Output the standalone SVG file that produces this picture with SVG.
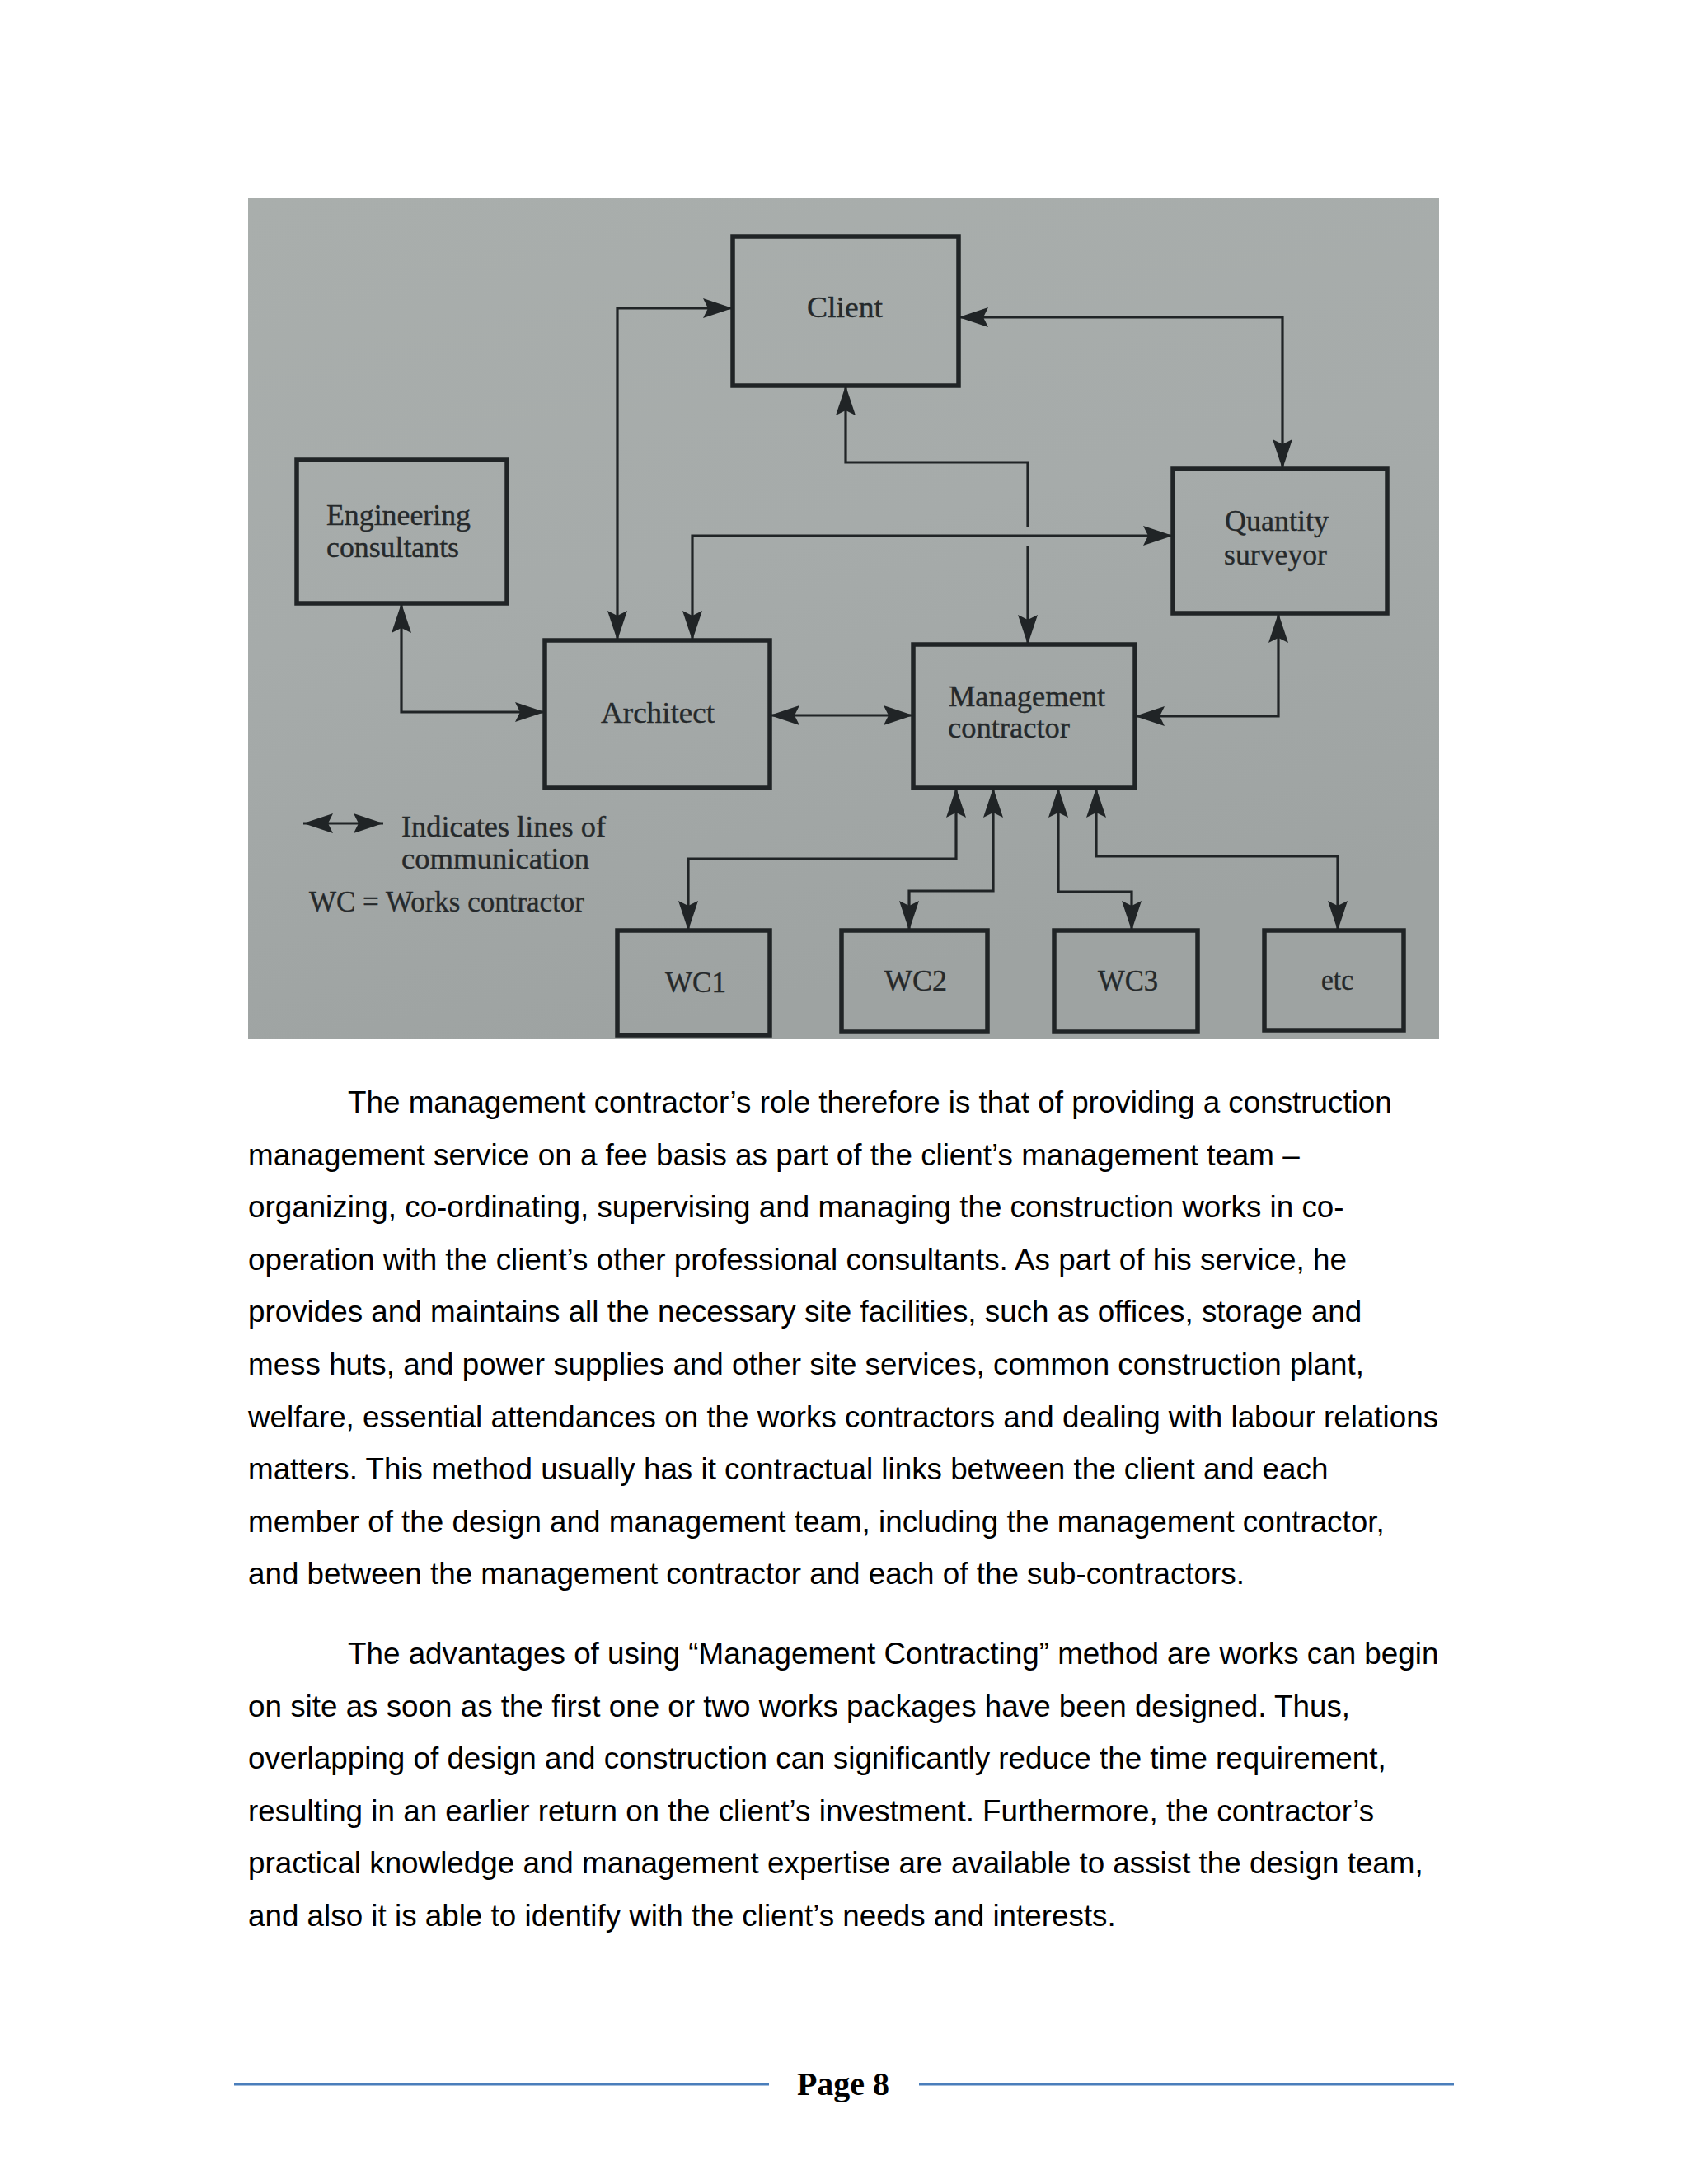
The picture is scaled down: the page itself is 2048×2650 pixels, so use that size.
<svg xmlns="http://www.w3.org/2000/svg" width="2048" height="2650" viewBox="0 0 2048 2650">
<defs>
<linearGradient id="photo" x1="0" y1="0" x2="0.3" y2="1">
<stop offset="0" stop-color="#a9aeac"/>
<stop offset="0.5" stop-color="#a6abaa"/>
<stop offset="1" stop-color="#9ea3a2"/>
</linearGradient>
<marker id="ah" markerUnits="userSpaceOnUse" markerWidth="38" markerHeight="24" refX="36" refY="12" orient="auto-start-reverse" viewBox="0 0 38 24">
<path d="M0,0 L36,12 L0,24 L6,12 z" fill="#202426"/>
</marker>
<style>
.box{fill:none;stroke:#202426;stroke-width:5.5}
.con{fill:none;stroke:#202426;stroke-width:3.2;marker-start:url(#ah);marker-end:url(#ah)}
.lbl{font-family:"Liberation Serif","DejaVu Serif",serif;font-size:36px;fill:#25292b;stroke:#25292b;stroke-width:0.4}
.body{font-family:"Liberation Sans",Arial,sans-serif;font-size:36.8px;fill:#000}
.foot{font-family:"Liberation Serif","DejaVu Serif",serif;font-size:40px;font-weight:bold;fill:#000}
</style>
</defs>
<rect width="2048" height="2650" fill="#fff"/>
<rect x="301" y="240" width="1445" height="1021" fill="url(#photo)"/>

<g id="connectors">
<path class="con" d="M889,374 H749 V777"/>
<path class="con" d="M1163,385 H1556 V569"/>
<path class="con" d="M840,777 V650 H1423"/>
<path class="con" style="marker-end:none" d="M1026,468 V561 H1247 V640"/>
<path class="con" style="marker-start:none" d="M1247,663 V782"/>
<path class="con" d="M487,732 V864 H661"/>
<path class="con" d="M934,868 H1108"/>
<path class="con" d="M1551,744 V869 H1377"/>
<path class="con" d="M1160,956 V1042 H835 V1129"/>
<path class="con" d="M1205,956 V1081 H1103 V1129"/>
<path class="con" d="M1284,956 V1082 H1373 V1129"/>
<path class="con" d="M1330,956 V1039 H1623 V1129"/>
</g>

<g id="client"><rect class="box" x="889" y="287" width="274" height="181"/><text class="lbl" x="979" y="385" font-size="37" textLength="92" lengthAdjust="spacingAndGlyphs">Client</text></g>
<g id="engineering-consultants"><rect class="box" x="360" y="558" width="255" height="174"/><text class="lbl" x="396" y="637" textLength="175" lengthAdjust="spacingAndGlyphs">Engineering</text><text class="lbl" x="396" y="676" textLength="161" lengthAdjust="spacingAndGlyphs">consultants</text></g>
<g id="quantity-surveyor"><rect class="box" x="1423" y="569" width="260" height="175"/><text class="lbl" x="1486" y="644" textLength="126" lengthAdjust="spacingAndGlyphs">Quantity</text><text class="lbl" x="1485" y="685" textLength="125" lengthAdjust="spacingAndGlyphs">surveyor</text></g>
<g id="architect"><rect class="box" x="661" y="777" width="273" height="179"/><text class="lbl" x="729" y="877" textLength="138" lengthAdjust="spacingAndGlyphs">Architect</text></g>
<g id="management-contractor"><rect class="box" x="1108" y="782" width="269" height="174"/><text class="lbl" x="1151" y="857" textLength="190" lengthAdjust="spacingAndGlyphs">Management</text><text class="lbl" x="1150" y="895" textLength="148" lengthAdjust="spacingAndGlyphs">contractor</text></g>
<g id="wc1"><rect class="box" x="749" y="1129" width="185" height="127"/><text class="lbl" x="807" y="1204" textLength="74" lengthAdjust="spacingAndGlyphs">WC1</text></g>
<g id="wc2"><rect class="box" x="1021" y="1129" width="177" height="123"/><text class="lbl" x="1073" y="1202" textLength="76" lengthAdjust="spacingAndGlyphs">WC2</text></g>
<g id="wc3"><rect class="box" x="1279" y="1129" width="174" height="123"/><text class="lbl" x="1332" y="1202" textLength="73" lengthAdjust="spacingAndGlyphs">WC3</text></g>
<g id="etc"><rect class="box" x="1534" y="1129" width="169" height="121"/><text class="lbl" x="1603" y="1201" font-size="30" textLength="39" lengthAdjust="spacingAndGlyphs">etc</text></g>

<g id="legend">
<path class="con" d="M368,999 H465"/>
<text class="lbl" x="487" y="1015" textLength="248" lengthAdjust="spacingAndGlyphs">Indicates lines of</text>
<text class="lbl" x="487" y="1054" textLength="228" lengthAdjust="spacingAndGlyphs">communication</text>
<text class="lbl" x="375" y="1106" textLength="334" lengthAdjust="spacingAndGlyphs">WC = Works contractor</text>
</g>

<g id="paragraph1" class="body">
<text x="422" y="1350">The management contractor’s role therefore is that of providing a construction</text>
<text x="301" y="1413.6">management service on a fee basis as part of the client’s management team –</text>
<text x="301" y="1477.2">organizing, co-ordinating, supervising and managing the construction works in co-</text>
<text x="301" y="1540.8">operation with the client’s other professional consultants. As part of his service, he</text>
<text x="301" y="1604.4">provides and maintains all the necessary site facilities, such as offices, storage and</text>
<text x="301" y="1668">mess huts, and power supplies and other site services, common construction plant,</text>
<text x="301" y="1731.6">welfare, essential attendances on the works contractors and dealing with labour relations</text>
<text x="301" y="1795.2">matters. This method usually has it contractual links between the client and each</text>
<text x="301" y="1858.8">member of the design and management team, including the management contractor,</text>
<text x="301" y="1922.4">and between the management contractor and each of the sub-contractors.</text>
</g>
<g id="paragraph2" class="body">
<text x="422" y="2019">The advantages of using “Management Contracting” method are works can begin</text>
<text x="301" y="2082.6">on site as soon as the first one or two works packages have been designed. Thus,</text>
<text x="301" y="2146.2">overlapping of design and construction can significantly reduce the time requirement,</text>
<text x="301" y="2209.8">resulting in an earlier return on the client’s investment. Furthermore, the contractor’s</text>
<text x="301" y="2273.4">practical knowledge and management expertise are available to assist the design team,</text>
<text x="301" y="2337">and also it is able to identify with the client’s needs and interests.</text>
</g>

<g id="footer">
<line x1="284" y1="2529" x2="933" y2="2529" stroke="#4a7ebb" stroke-width="3"/>
<line x1="1115" y1="2529" x2="1764" y2="2529" stroke="#4a7ebb" stroke-width="3"/>
<text class="foot" x="1023" y="2542" text-anchor="middle">Page 8</text>
</g>
</svg>
